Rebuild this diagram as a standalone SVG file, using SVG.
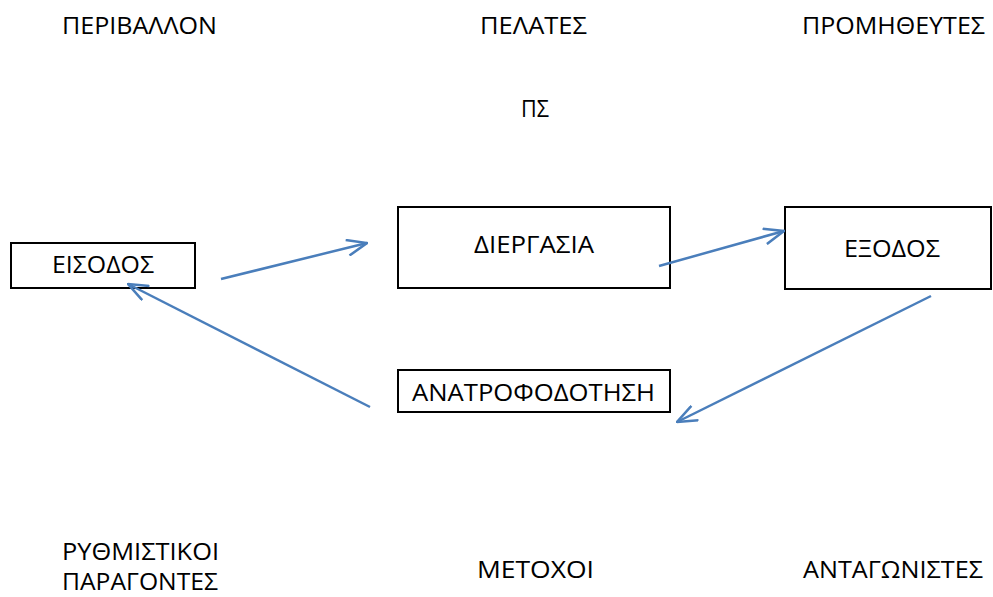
<svg xmlns="http://www.w3.org/2000/svg" width="993" height="597" viewBox="0 0 993 597">
<style>
text{font-family:"Open Sans","Noto Sans","Liberation Sans",sans-serif;font-size:23px;fill:#000;}
.box{fill:#fff;stroke:#000;stroke-width:2;}
.con{stroke:#4A7EBB;stroke-width:2.5;fill:none;}
</style>
<defs>
<marker id="ah" viewBox="0 0 22 18" refX="21" refY="9" markerWidth="22" markerHeight="18" markerUnits="userSpaceOnUse" orient="auto">
<path d="M1,1 L21,9 L1,17" fill="none" stroke="#4A7EBB" stroke-width="2.5"/>
</marker>
</defs>
<rect width="993" height="597" fill="#fff"/>
<g id="labels">
<text x="62" y="34" textLength="155" lengthAdjust="spacingAndGlyphs">ΠΕΡΙΒΑΛΛΟΝ</text>
<text x="480" y="34" textLength="107" lengthAdjust="spacingAndGlyphs">ΠΕΛΑΤΕΣ</text>
<text x="802" y="34" textLength="183" lengthAdjust="spacingAndGlyphs">ΠΡΟΜΗΘΕΥΤΕΣ</text>
<text x="521" y="117" textLength="28" lengthAdjust="spacingAndGlyphs">ΠΣ</text>
<text x="62" y="560" textLength="157" lengthAdjust="spacingAndGlyphs">ΡΥΘΜΙΣΤΙΚΟΙ</text>
<text x="62" y="590" textLength="156" lengthAdjust="spacingAndGlyphs">ΠΑΡΑΓΟΝΤΕΣ</text>
<text x="477" y="578" textLength="117" lengthAdjust="spacingAndGlyphs">ΜΕΤΟΧΟΙ</text>
<text x="803" y="578" textLength="180" lengthAdjust="spacingAndGlyphs">ΑΝΤΑΓΩΝΙΣΤΕΣ</text>
</g>
<g id="eisodos">
<rect class="box" x="11" y="243" width="184" height="45"/>
<text x="52" y="273" textLength="102" lengthAdjust="spacingAndGlyphs">ΕΙΣΟΔΟΣ</text>
</g>
<g id="diergasia">
<rect class="box" x="398" y="207" width="272" height="81"/>
<text x="474" y="253" textLength="120" lengthAdjust="spacingAndGlyphs">ΔΙΕΡΓΑΣΙΑ</text>
</g>
<g id="exodos">
<rect class="box" x="785" y="207" width="206" height="82"/>
<text x="844" y="257" textLength="96" lengthAdjust="spacingAndGlyphs">ΕΞΟΔΟΣ</text>
</g>
<g id="anatrofodotisi">
<rect class="box" x="398" y="370" width="272" height="42"/>
<text x="412" y="401" textLength="243" lengthAdjust="spacingAndGlyphs">ΑΝΑΤΡΟΦΟΔΟΤΗΣΗ</text>
</g>
<g id="connectors">
<line class="con" x1="221" y1="279" x2="367" y2="243" marker-end="url(#ah)"/>
<line class="con" x1="659" y1="266" x2="784" y2="231" marker-end="url(#ah)"/>
<line class="con" x1="931" y1="296" x2="677" y2="422" marker-end="url(#ah)"/>
<line class="con" x1="370" y1="407" x2="128" y2="284" marker-end="url(#ah)"/>
</g>
</svg>
